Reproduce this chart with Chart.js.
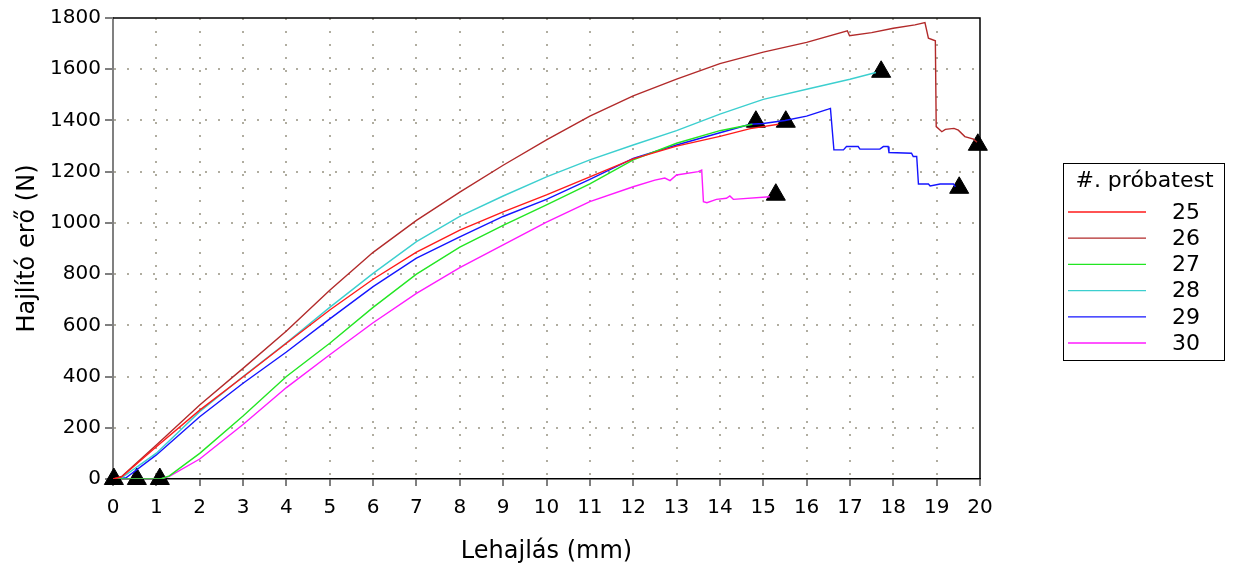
<!DOCTYPE html>
<html>
<head>
<meta charset="utf-8">
<script src="https://cdn.jsdelivr.net/npm/chart.js@4/dist/chart.umd.min.js"></script>
<style>
    html, body { margin: 0; padding: 0; background: #ffffff; }
    #wrap { width: 1237px; height: 566px; }
</style>
</head>
<body>
<div id="wrap"><canvas id="bendChart" width="1237" height="566"></canvas></div>
<script>
// deflection (mm) / force (N) pairs per specimen
const labels = ["25", "26", "27", "28", "29", "30"];
const colors = ["#ff1a1a", "#b22a2a", "#22e622", "#3ccfcf", "#1414ff", "#ff1aff"];

const x25 = [0, 0.2, 1, 2, 3, 4, 5, 6, 7, 8, 9, 10, 11, 12, 13, 14, 14.7, 15.35];
const y25 = [0, 8, 126, 269, 398, 530, 660, 780, 886, 972, 1043, 1109, 1180, 1250, 1300, 1338, 1368, 1385];

const x26 = [0, 0.2, 1, 2, 3, 4, 5, 6, 7, 8, 9, 10, 11, 12, 13, 14, 15, 16, 16.94, 16.99, 17.5, 18, 18.5, 18.73, 18.81, 18.97, 18.99, 19.12, 19.2, 19.4, 19.5, 19.65, 19.85, 19.93];
const y26 = [0, 10, 133, 289, 432, 578, 737, 885, 1010, 1120, 1225, 1324, 1417, 1496, 1561, 1622, 1667, 1705, 1750, 1731, 1743, 1760, 1773, 1782, 1721, 1711, 1376, 1356, 1365, 1369, 1362, 1337, 1327, 1315];

const x27 = [0, 1.1, 1.3, 2, 3, 4, 5, 6, 7, 8, 9, 10, 11, 12, 13, 14, 14.75];
const y27 = [0, 0, 12, 100, 246, 400, 530, 670, 800, 905, 990, 1070, 1152, 1246, 1311, 1360, 1385];

const x28 = [0, 0.2, 1, 2, 3, 4, 5, 6, 7, 8, 9, 10, 11, 12, 13, 14, 15, 16, 17, 17.6];
const y28 = [0, 5, 101, 263, 400, 532, 670, 803, 927, 1025, 1105, 1180, 1246, 1304, 1360, 1425, 1482, 1522, 1561, 1587];

const x29 = [0, 0.3, 1, 2, 3, 4, 5, 6, 7, 8, 9, 10, 11, 12, 13, 14, 14.7, 15, 15.5, 16, 16.5, 16.55, 16.63, 16.85, 16.92, 17.19, 17.23, 17.69, 17.77, 17.88, 17.9, 18.42, 18.46, 18.54, 18.58, 18.81, 18.85, 19.08, 19.39, 19.43];
const y29 = [0, 5, 94, 243, 374, 496, 625, 751, 862, 945, 1025, 1092, 1170, 1252, 1304, 1352, 1385, 1388, 1400, 1417, 1444, 1447, 1285, 1285, 1298, 1298, 1288, 1288, 1298, 1298, 1275, 1272, 1259, 1259, 1152, 1152, 1144, 1152, 1152, 1141];

const x30 = [0, 1.1, 1.3, 2, 3, 4, 5, 6, 7, 8, 9, 10, 11, 12, 12.5, 12.73, 12.85, 13, 13.5, 13.58, 13.62, 13.7, 13.92, 14.15, 14.23, 14.31, 15.15];
const y30 = [0, 0, 10, 78, 213, 357, 485, 610, 725, 825, 914, 1003, 1083, 1141, 1167, 1175, 1165, 1187, 1200, 1206, 1083, 1079, 1092, 1096, 1105, 1092, 1102];

// black triangles: start and break points
const markX = [0.02, 0.55, 1.08, 14.83, 15.52, 17.72, 19.95, 19.52, 15.29];
const markY = [0, 0, 0, 1395, 1395, 1590, 1305, 1137, 1110];

const xTicks = { min: 0, max: 20, step: 1 };
const yTicks = { min: 0, max: 1800, step: 100, labelStep: 200 };

const seriesX = [x25, x26, x27, x28, x29, x30];
const seriesY = [y25, y26, y27, y28, y29, y30];

const font = "'DejaVu Sans', Verdana, sans-serif";
const gridColor = "rgba(150,145,128,0.75)";

const datasets = labels.map((label, i) => ({
    label: label,
    data: seriesX[i].map((x, j) => ({ x: x, y: seriesY[i][j] })),
    showLine: true,
    borderColor: colors[i],
    borderWidth: 1.4,
    pointRadius: 0,
    tension: 0,
}));

datasets.push({
    label: "markers",
    data: markX.map((x, j) => ({ x: x, y: markY[j] })),
    showLine: false,
    pointStyle: "triangle",
    pointRadius: 11,
    pointBackgroundColor: "#000000",
    pointBorderColor: "#000000",
    pointBorderWidth: 1,
    clip: false,
});

const framePlugin = {
    id: "frame",
    afterDatasetsDraw(chart) {
        const { ctx, chartArea } = chart;
        ctx.save();
        ctx.strokeStyle = "#000000";
        ctx.lineWidth = 1.5;
        ctx.beginPath();
        ctx.moveTo(chartArea.left, chartArea.top);
        ctx.lineTo(chartArea.right, chartArea.top);
        ctx.lineTo(chartArea.right, chartArea.bottom);
        ctx.stroke();
        ctx.restore();
    },
};

const boxLegend = {
    id: "boxLegend",
    afterDraw(chart) {
        const ctx = chart.ctx;
        const left = 1063, top = 163, w = 161, h = 197;
        ctx.save();
        ctx.strokeStyle = "#000000";
        ctx.lineWidth = 1;
        ctx.strokeRect(left + 0.5, top + 0.5, w, h);
        ctx.fillStyle = "#000000";
        ctx.font = "22px " + font;
        ctx.textAlign = "center";
        ctx.textBaseline = "middle";
        ctx.fillText("#. próbatest", left + w / 2 + 1, top + 18);
        labels.forEach((label, i) => {
            const y = top + 49 + i * 26.2;
            ctx.strokeStyle = colors[i];
            ctx.lineWidth = 1.3;
            ctx.beginPath();
            ctx.moveTo(left + 5, y);
            ctx.lineTo(left + 83, y);
            ctx.stroke();
            ctx.fillStyle = "#000000";
            ctx.fillText(label, left + 123, y + 1);
        });
        ctx.restore();
    },
};

new Chart(document.getElementById("bendChart"), {
    type: "scatter",
    data: { datasets: datasets },
    plugins: [framePlugin, boxLegend],
    options: {
        responsive: false,
        animation: false,
        devicePixelRatio: 1,
        layout: { padding: { top: 18, right: 257, left: 0, bottom: 0 } },
        plugins: {
            legend: { display: false },
            tooltip: { enabled: false },
        },
        scales: {
            x: {
                type: "linear",
                min: xTicks.min,
                max: xTicks.max,
                afterFit: (scale) => { scale.height = 87; },
                ticks: {
                    stepSize: xTicks.step,
                    color: "#000000",
                    padding: 10,
                    font: { family: font, size: 20 },
                    maxRotation: 0,
                },
                grid: {
                    color: (c) => (c.tick && c.tick.value > 0 && c.tick.value < 20 ? gridColor : "rgba(0,0,0,0)"),
                    lineWidth: 2,
                    tickColor: "#000000",
                    tickLength: 7,
                    tickWidth: 1,
                },
                border: { display: true, color: "#000000", width: 1.5, dash: [2, 11] },
                title: {
                    display: true,
                    text: "Lehajlás (mm)",
                    color: "#000000",
                    font: { family: font, size: 24 },
                    padding: { top: 6, bottom: 0 },
                },
            },
            y: {
                type: "linear",
                min: yTicks.min,
                max: yTicks.max,
                afterFit: (scale) => { scale.width = 113; },
                ticks: {
                    stepSize: yTicks.step,
                    color: "#000000",
                    padding: 4,
                    font: { family: font, size: 20 },
                    callback: (v) => (v % yTicks.labelStep === 0 ? v : ""),
                },
                grid: {
                    color: (c) => (c.tick && c.tick.value % 200 === 0 && c.tick.value > 0 && c.tick.value < 1800 ? gridColor : "rgba(0,0,0,0)"),
                    lineWidth: 2,
                    tickColor: "#000000",
                    tickLength: 8,
                    tickWidth: 1,
                },
                border: { display: true, color: "#808080", width: 2, dash: [2, 11] },
                title: {
                    display: true,
                    text: "Hajlító erő (N)",
                    color: "#000000",
                    font: { family: font, size: 24 },
                    padding: { top: 13, bottom: 0 },
                },
            },
        },
    },
});
</script>
</body>
</html>
